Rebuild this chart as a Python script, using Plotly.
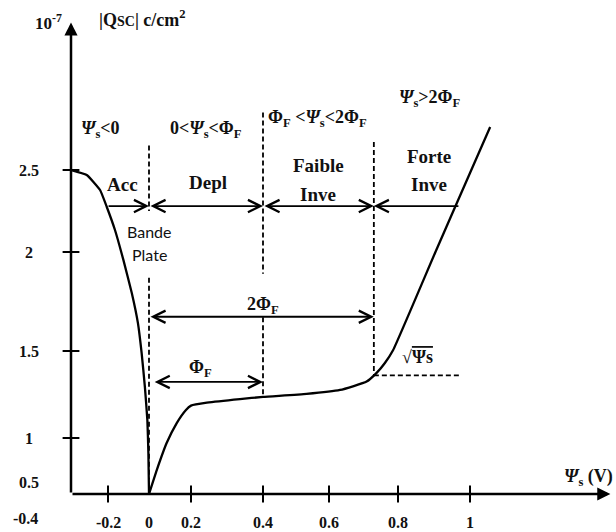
import numpy as np
import plotly.graph_objects as go

# ---------------------------------------------------------------- data ---
# Surface potential Ψs (V) ticks
x_tick_values = [-0.4, -0.2, 0.0, 0.2, 0.4, 0.6, 0.8, 1.0]
x_tick_labels = ["-0.4", "-0.2", "0", "0.2", "0.4", "0.6", "0.8", "1"]
x_tick_marks = [-0.2, 0.2, 0.4, 0.6, 0.8, 1.0]

# |Qsc| (×10⁻⁷ C/cm²) ticks
y_tick_values = [0.5, 1.0, 1.5, 2.0, 2.5]
y_tick_labels = ["0.5", "1", "1.5", "2", "2.5"]
y_tick_marks = [1.0, 1.5, 2.0, 2.5]

# accumulation branch (Ψs < 0)
acc_psi = [-0.400, -0.315, -0.243, -0.207, -0.166, -0.125, -0.084,
           -0.054, -0.036, -0.020, -0.008, -0.003, 0.000]
acc_q = [2.500, 2.470, 2.378, 2.276, 2.134, 1.960, 1.793,
         1.641, 1.489, 1.293, 1.103, 0.866, 0.500]

# depletion -> weak inversion -> strong inversion (Ψs > 0)
inv_psi = [0.000, 0.037, 0.084, 0.132, 0.175, 0.200, 0.244, 0.336, 0.400,
           0.532, 0.632, 0.709, 0.738, 0.762, 0.786, 0.904, 1.000, 1.056]
inv_q = [0.500, 0.714, 0.955, 1.086, 1.160, 1.186, 1.203, 1.224, 1.236,
         1.253, 1.276, 1.324, 1.374, 1.431, 1.505, 2.000, 2.482, 2.762]

phi_f = 0.40        # ΦF
two_phi_f = 0.73    # 2ΦF, onset of strong inversion as drawn
q_knee = 1.36       # |Qsc| at the onset of strong inversion
psi_axis_end = 1.39
q_axis_end = 3.40

# ------------------------------------------------------------- scales ---
# The schematic's axes are hand-spaced: every labelled tick has its own
# spot along the axis (screen units) and values in between are placed
# linearly; beyond the last tick the last spacing is continued.
X_SPOTS = [0, 37, 78, 120, 192, 258, 327, 399]
Y_SPOTS = [0, 56, 143, 242, 324]


def axis_map(vals, spots):
    vals = np.asarray(vals, float)
    spots = np.asarray(spots, float)
    lo = (spots[1] - spots[0]) / (vals[1] - vals[0])
    hi = (spots[-1] - spots[-2]) / (vals[-1] - vals[-2])

    def f(v):
        v = np.asarray(v, float)
        out = np.interp(v, vals, spots)
        out = np.where(v < vals[0], spots[0] + (v - vals[0]) * lo, out)
        out = np.where(v > vals[-1], spots[-1] + (v - vals[-1]) * hi, out)
        return out if out.ndim else float(out)
    return f


sx = axis_map(x_tick_values, X_SPOTS)
sy = axis_map(y_tick_values, Y_SPOTS)

SERIF = "Liberation Serif"
SANS = "Lato"
INK = "#111111"
psi0, q0 = x_tick_values[0], y_tick_values[0]

fig = go.Figure()

# ------------------------------------------------------------- curves ---
for xs, ys in ((acc_psi, acc_q), (inv_psi, inv_q)):
    fig.add_trace(go.Scatter(
        x=sx(xs), y=sy(ys), mode="lines",
        line=dict(color="black", width=2.3, shape="spline", smoothing=0.4),
        hoverinfo="skip", showlegend=False))


def dashed(x0, x1, q_a, q_b):
    fig.add_trace(go.Scatter(
        x=sx([x0, x1]), y=sy([q_a, q_b]), mode="lines",
        line=dict(color="black", width=1.8, dash="5px,3px"),
        hoverinfo="skip", showlegend=False))


# boundaries: flat band (Ψs = 0), ΦF and 2ΦF
for top, bottom in [(2.65, 2.25), (1.87, 0.63)]:
    dashed(0.0, 0.0, top, bottom)
for top, bottom in [(2.85, 1.89), (1.67, 1.236)]:
    dashed(phi_f, phi_f, top, bottom)
dashed(two_phi_f, two_phi_f, 2.67, q_knee)
dashed(two_phi_f, 0.972, q_knee, q_knee)

# tick marks crossing the axes
fig.add_trace(go.Scatter(
    x=sx([psi0] * len(y_tick_marks)), y=sy(y_tick_marks), mode="markers",
    marker=dict(symbol="line-ew", size=12, line=dict(color="black", width=2)),
    cliponaxis=False, hoverinfo="skip", showlegend=False))
fig.add_trace(go.Scatter(
    x=sx(x_tick_marks), y=sy([q0] * len(x_tick_marks)), mode="markers",
    marker=dict(symbol="line-ns", size=12, line=dict(color="black", width=2)),
    cliponaxis=False, hoverinfo="skip", showlegend=False))

# --------------------------------------------------------------- axes ---
for (x_end, y_end) in [(psi_axis_end, q0), (psi0, q_axis_end)]:
    fig.add_annotation(
        x=sx(x_end), y=sy(y_end), ax=sx(psi0), ay=sy(q0),
        xref="x", yref="y", axref="x", ayref="y", text="",
        showarrow=True, arrowhead=2, arrowsize=1.05, arrowwidth=2.5,
        arrowcolor="black", standoff=0, startstandoff=0)


def arrow(x_from, x_to, q, both=True):
    fig.add_annotation(
        x=sx(x_to), y=sy(q), ax=sx(x_from), ay=sy(q),
        xref="x", yref="y", axref="x", ayref="y", text="",
        showarrow=True, arrowhead=5, arrowsize=1.35, arrowwidth=1.8,
        startarrowhead=5, startarrowsize=1.35,
        arrowside="end+start" if both else "end",
        arrowcolor="black", standoff=0, startstandoff=0)


q_regions = 2.28
arrow(-0.205, 0.0, q_regions, both=False)
arrow(0.0, phi_f, q_regions)
arrow(phi_f, two_phi_f, q_regions)
arrow(0.972, two_phi_f, q_regions, both=False)
arrow(0.0, two_phi_f, 1.673)
arrow(0.02, phi_f, 1.322)


def label(text, x, q, size, family=SERIF, **kw):
    fig.add_annotation(x=sx(x), y=sy(q), text=text, showarrow=False,
                       font=dict(family=family, size=size, color=INK), **kw)


# tick labels
for v, t in zip(x_tick_values, x_tick_labels):
    if v == psi0:
        label(f"<b>{t}</b>", v, q0, 16, xshift=-46, yshift=-24)
    else:
        label(f"<b>{t}</b>", v, q0, 16, yshift=-28)
for v, t in zip(y_tick_values, y_tick_labels):
    label(f"<b>{t}</b>", psi0, v, 16, xshift=-42, yshift=12 if v == q0 else 0)

# axis titles
label("<b>10<sup>-7</sup></b>", psi0, q_axis_end, 17, xanchor="right",
      xshift=-7, yshift=0)
label("<b>|Q<span style='font-size:14px'>SC</span>| c/cm<sup>2</sup></b>",
      psi0, q_axis_end, 18, xanchor="left", xshift=26, yshift=4)
label("<b><i>Ψ</i><sub>s</sub> (V)</b>", psi_axis_end, q0, 18,
      xanchor="right", xshift=5, yshift=17)

# regimes
label("<b><i>Ψ</i><sub>s</sub>&lt;0</b>", -0.243, 2.744, 18)
label("<b>0&lt;<i>Ψ</i><sub>s</sub>&lt;Φ<sub>F</sub></b>", 0.242, 2.744, 18)
label("<b>Φ<sub>F</sub> &lt;<i>Ψ</i><sub>s</sub>&lt;2Φ<sub>F</sub></b>",
      0.564, 2.817, 18)
label("<b><i>Ψ</i><sub>s</sub>&gt;2Φ<sub>F</sub></b>", 0.889, 2.939, 18)

label("<b>Acc</b>", -0.129, 2.409, 19)
label("<b>Depl</b>", 0.246, 2.421, 19)
label("<b>Faible</b>", 0.567, 2.53, 19)
label("<b>Inve</b>", 0.567, 2.348, 19)
label("<b>Forte</b>", 0.886, 2.585, 19)
label("<b>Inve</b>", 0.886, 2.409, 19)
label("Bande", 0.0, 2.122, 16, family=SANS)
label("Plate", 0.0, 1.985, 16, family=SANS)

label("<b>2Φ<sub>F</sub></b>", phi_f, 1.732, 18)
label("<b>Φ<sub>F</sub></b>", 0.225, 1.402, 18)
label("<b>√<span style='text-decoration:overline'>Ψs</span></b>",
      0.853, 1.466, 18)

fig.update_layout(
    width=616, height=532,
    margin=dict(l=71, r=2, t=0, b=38),
    paper_bgcolor="white", plot_bgcolor="white",
    xaxis=dict(visible=False, range=[0, 543], fixedrange=True),
    yaxis=dict(visible=False, range=[0, 494], fixedrange=True),
    showlegend=False,
)

fig.write_html("out.html")
